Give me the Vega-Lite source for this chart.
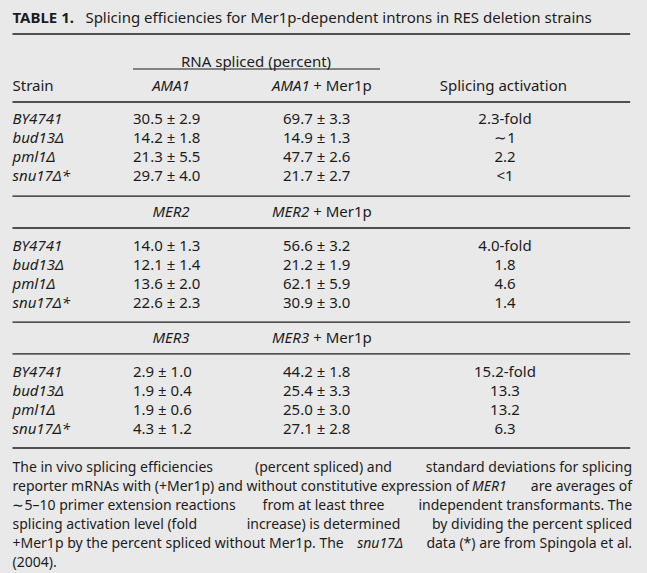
{
  "$schema": "https://vega.github.io/schema/vega-lite/v6.json",
  "width": 647,
  "height": 573,
  "autosize": {"type": "fit", "contains": "padding"},
  "padding": 0,
  "background": "#e9e9e9",
  "config": {
    "view": {"stroke": null},
    "text": {"font": "Noto Sans", "fontSize": 15, "color": "#1c1c1c", "baseline": "middle", "align": "left"},
    "rule": {"color": "#1c1c1c", "strokeWidth": 1.3}
  },
  "datasets": {
    "rows": [
      {"block": "AMA1", "line": 6.26, "strain": "BY4741", "minus": "30.5 ± 2.9", "plus": "69.7 ± 3.3", "act": "2.3-fold"},
      {"block": "AMA1", "line": 7.26, "strain": "bud13Δ", "minus": "14.2 ± 1.8", "plus": "14.9 ± 1.3", "act": "∼1"},
      {"block": "AMA1", "line": 8.26, "strain": "pml1Δ", "minus": "21.3 ± 5.5", "plus": "47.7 ± 2.6", "act": "2.2"},
      {"block": "AMA1", "line": 9.26, "strain": "snu17Δ*", "minus": "29.7 ± 4.0", "plus": "21.7 ± 2.7", "act": "<1"},
      {"block": "MER2", "line": 12.95, "strain": "BY4741", "minus": "14.0 ± 1.3", "plus": "56.6 ± 3.2", "act": "4.0-fold"},
      {"block": "MER2", "line": 13.95, "strain": "bud13Δ", "minus": "12.1 ± 1.4", "plus": "21.2 ± 1.9", "act": "1.8"},
      {"block": "MER2", "line": 14.95, "strain": "pml1Δ", "minus": "13.6 ± 2.0", "plus": "62.1 ± 5.9", "act": "4.6"},
      {"block": "MER2", "line": 15.95, "strain": "snu17Δ*", "minus": "22.6 ± 2.3", "plus": "30.9 ± 3.0", "act": "1.4"},
      {"block": "MER3", "line": 19.58, "strain": "BY4741", "minus": "2.9 ± 1.0", "plus": "44.2 ± 1.8", "act": "15.2-fold"},
      {"block": "MER3", "line": 20.58, "strain": "bud13Δ", "minus": "1.9 ± 0.4", "plus": "25.4 ± 3.3", "act": "13.3"},
      {"block": "MER3", "line": 21.58, "strain": "pml1Δ", "minus": "1.9 ± 0.6", "plus": "25.0 ± 3.0", "act": "13.2"},
      {"block": "MER3", "line": 22.58, "strain": "snu17Δ*", "minus": "4.3 ± 1.2", "plus": "27.1 ± 2.8", "act": "6.3"}
    ],
    "heads": [
      {"line": 4.53, "gene": "AMA1"},
      {"line": 11.16, "gene": "MER2"},
      {"line": 17.79, "gene": "MER3"}
    ],
    "rules": [
      {"line": 1.79}, {"line": 5.37}, {"line": 10.32}, {"line": 12.0},
      {"line": 16.95}, {"line": 18.63}, {"line": 23.58}
    ],
    "foot": [
      {"line": 24.63, "l": "The in vivo splicing efficiencies", "c": "(percent spliced) and", "i": "", "j": "", "r": "standard deviations for splicing"},
      {"line": 25.63, "l": "reporter mRNAs with (+Mer1p) and without constitutive expression of", "c": "", "i": "MER1", "j": "", "r": "are averages of"},
      {"line": 26.63, "l": "∼5–10 primer extension reactions", "c": "from at least three", "i": "", "j": "", "r": "independent transformants. The"},
      {"line": 27.63, "l": "splicing activation level (fold", "c": "increase) is determined", "i": "", "j": "", "r": "by dividing the percent spliced"},
      {"line": 28.63, "l": "+Mer1p by the percent spliced without Mer1p. The", "c": "", "i": "", "j": "snu17Δ", "r": "data (*) are from Spingola et al."},
      {"line": 29.63, "l": "(2004).", "c": "", "i": "", "j": "", "r": ""}
    ]
  },
  "layer": [
    {
      "data": {"values": [{"line": 0.95, "t": "TABLE 1."}]},
      "mark": {"type": "text", "fontWeight": "bold"},
      "encoding": {
        "x": {"datum": 1.93, "type": "quantitative", "scale": {"domain": [0, 100], "nice": false, "zero": false}, "axis": null},
        "y": {"field": "line", "type": "quantitative", "scale": {"domain": [0, 30.16], "reverse": true, "nice": false, "zero": false}, "axis": null},
        "text": {"field": "t"}
      }
    },
    {
      "data": {"values": [{"line": 0.95, "t": "Splicing efficiencies for Mer1p-dependent introns in RES deletion strains"}]},
      "mark": {"type": "text"},
      "encoding": {
        "x": {"datum": 13.2, "type": "quantitative"},
        "y": {"field": "line", "type": "quantitative"},
        "text": {"field": "t"}
      }
    },
    {
      "data": {"name": "rules"},
      "mark": {"type": "rule"},
      "encoding": {
        "x": {"datum": 1.93, "type": "quantitative"},
        "x2": {"datum": 97.4},
        "y": {"field": "line", "type": "quantitative"}
      }
    },
    {
      "data": {"values": [{"line": 3.63}]},
      "mark": {"type": "rule", "strokeWidth": 1.1},
      "encoding": {
        "x": {"datum": 20.56, "type": "quantitative"},
        "x2": {"datum": 58.73},
        "y": {"field": "line", "type": "quantitative"}
      }
    },
    {
      "data": {"values": [{"line": 3.26, "t": "RNA spliced (percent)"}]},
      "mark": {"type": "text", "align": "center"},
      "encoding": {
        "x": {"datum": 39.57, "type": "quantitative"},
        "y": {"field": "line", "type": "quantitative"},
        "text": {"field": "t"}
      }
    },
    {
      "data": {"values": [{"line": 4.53, "t": "Strain"}]},
      "mark": {"type": "text"},
      "encoding": {
        "x": {"datum": 1.93, "type": "quantitative"},
        "y": {"field": "line", "type": "quantitative"},
        "text": {"field": "t"}
      }
    },
    {
      "data": {"values": [{"line": 4.53, "t": "Splicing activation"}]},
      "mark": {"type": "text", "align": "center"},
      "encoding": {
        "x": {"datum": 77.8, "type": "quantitative"},
        "y": {"field": "line", "type": "quantitative"},
        "text": {"field": "t"}
      }
    },
    {
      "data": {"name": "heads"},
      "mark": {"type": "text", "align": "center", "fontStyle": "italic"},
      "encoding": {
        "x": {"datum": 26.43, "type": "quantitative"},
        "y": {"field": "line", "type": "quantitative"},
        "text": {"field": "gene"}
      }
    },
    {
      "data": {"name": "heads"},
      "mark": {"type": "text", "fontStyle": "italic"},
      "encoding": {
        "x": {"datum": 42.04, "type": "quantitative"},
        "y": {"field": "line", "type": "quantitative"},
        "text": {"field": "gene"}
      }
    },
    {
      "data": {"name": "heads"},
      "mark": {"type": "text", "text": "+ Mer1p"},
      "encoding": {
        "x": {"datum": 48.4, "type": "quantitative"},
        "y": {"field": "line", "type": "quantitative"}
      }
    },
    {
      "data": {"name": "rows"},
      "mark": {"type": "text", "fontStyle": "italic"},
      "encoding": {
        "x": {"datum": 1.93, "type": "quantitative"},
        "y": {"field": "line", "type": "quantitative"},
        "text": {"field": "strain"}
      }
    },
    {
      "data": {"name": "rows"},
      "mark": {"type": "text"},
      "encoding": {
        "x": {"datum": 20.56, "type": "quantitative"},
        "y": {"field": "line", "type": "quantitative"},
        "text": {"field": "minus"}
      }
    },
    {
      "data": {"name": "rows"},
      "mark": {"type": "text"},
      "encoding": {
        "x": {"datum": 43.74, "type": "quantitative"},
        "y": {"field": "line", "type": "quantitative"},
        "text": {"field": "plus"}
      }
    },
    {
      "data": {"name": "rows"},
      "mark": {"type": "text", "align": "center"},
      "encoding": {
        "x": {"datum": 78.05, "type": "quantitative"},
        "y": {"field": "line", "type": "quantitative"},
        "text": {"field": "act"}
      }
    },
    {
      "data": {"name": "foot"},
      "mark": {"type": "text", "fontSize": 14},
      "encoding": {
        "x": {"datum": 1.93, "type": "quantitative"},
        "y": {"field": "line", "type": "quantitative"},
        "text": {"field": "l"}
      }
    },
    {
      "data": {"name": "foot"},
      "mark": {"type": "text", "fontSize": 14, "align": "center"},
      "encoding": {
        "x": {"datum": 50, "type": "quantitative"},
        "y": {"field": "line", "type": "quantitative"},
        "text": {"field": "c"}
      }
    },
    {
      "data": {"name": "foot"},
      "mark": {"type": "text", "fontStyle": "italic", "fontSize": 14},
      "encoding": {
        "x": {"datum": 72.95, "type": "quantitative"},
        "y": {"field": "line", "type": "quantitative"},
        "text": {"field": "i"}
      }
    },
    {
      "data": {"name": "foot"},
      "mark": {"type": "text", "fontStyle": "italic", "fontSize": 14},
      "encoding": {
        "x": {"datum": 55.2, "type": "quantitative"},
        "y": {"field": "line", "type": "quantitative"},
        "text": {"field": "j"}
      }
    },
    {
      "data": {"name": "foot"},
      "mark": {"type": "text", "align": "right", "fontSize": 14},
      "encoding": {
        "x": {"datum": 97.7, "type": "quantitative"},
        "y": {"field": "line", "type": "quantitative"},
        "text": {"field": "r"}
      }
    }
  ]
}
